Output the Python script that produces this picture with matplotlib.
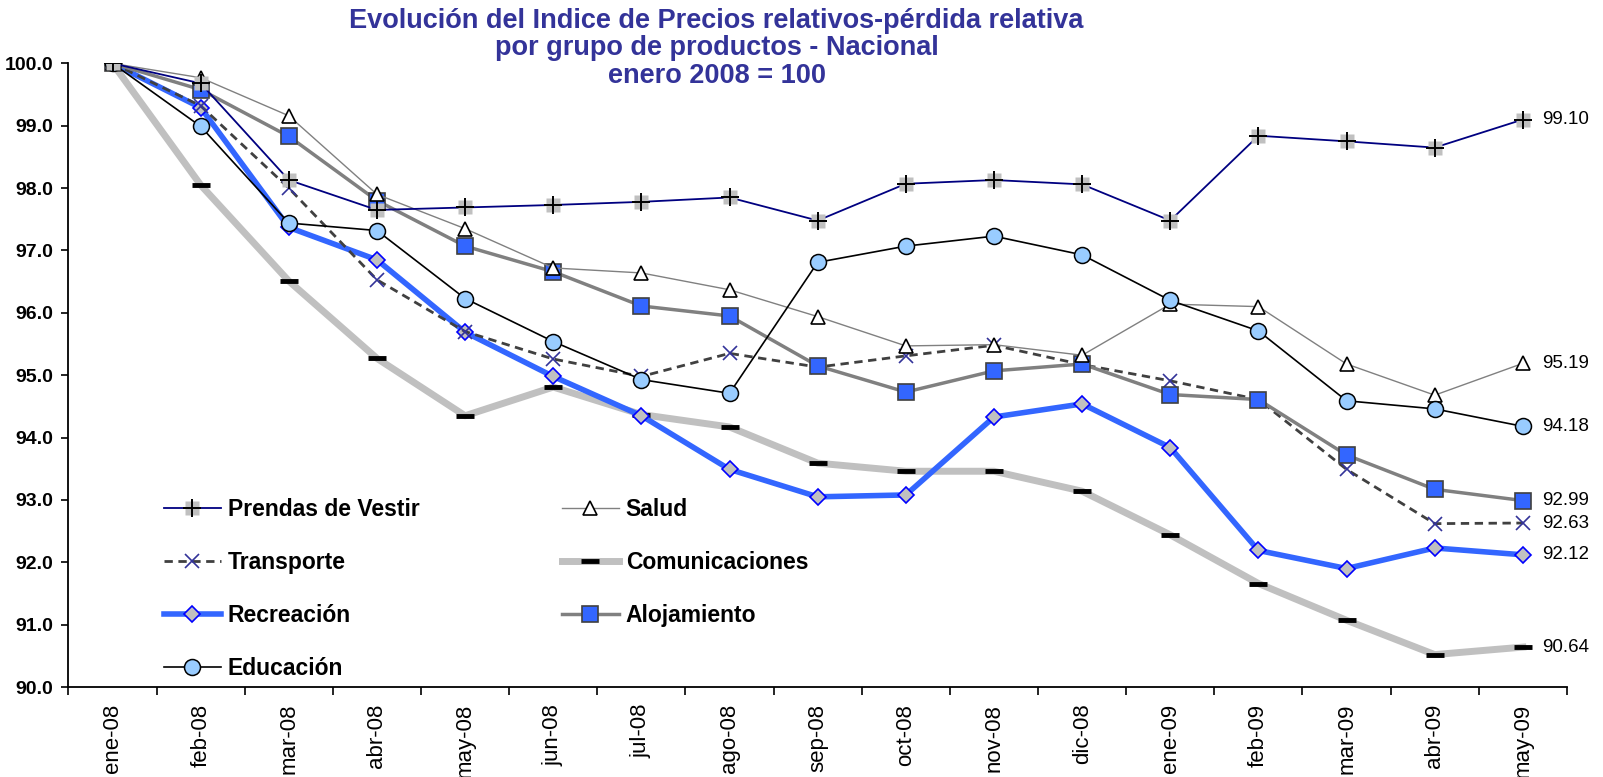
import matplotlib
matplotlib.use("Agg")
import matplotlib.pyplot as plt
from matplotlib.legend_handler import HandlerTuple

plt.rcParams['font.family'] = ['Liberation Sans', 'DejaVu Sans']

# datos
meses = ["ene-08", "feb-08", "mar-08", "abr-08", "may-08", "jun-08", "jul-08", "ago-08", "sep-08",
         "oct-08", "nov-08", "dic-08", "ene-09", "feb-09", "mar-09", "abr-09", "may-09"]
prendas = [100.0, 99.68, 98.13, 97.65, 97.69, 97.73, 97.78, 97.85, 97.48,
           98.07, 98.13, 98.06, 97.48, 98.84, 98.75, 98.65, 99.10]
salud = [100.0, 99.77, 99.16, 97.90, 97.35, 96.72, 96.64, 96.37, 95.94,
         95.47, 95.49, 95.32, 96.14, 96.10, 95.18, 94.68, 95.19]
transporte = [100.0, 99.32, 98.00, 96.53, 95.70, 95.26, 94.98, 95.35, 95.13,
              95.31, 95.48, 95.17, 94.91, 94.61, 93.49, 92.62, 92.63]
comunicaciones = [100.0, 98.05, 96.51, 95.27, 94.35, 94.81, 94.37, 94.17, 93.59,
                  93.46, 93.46, 93.14, 92.44, 91.66, 91.07, 90.52, 90.64]
recreacion = [100.0, 99.29, 97.37, 96.85, 95.69, 94.98, 94.35, 93.49, 93.05,
              93.08, 94.33, 94.54, 93.84, 92.19, 91.90, 92.23, 92.12]
alojamiento = [100.0, 99.58, 98.83, 97.80, 97.07, 96.66, 96.11, 95.95, 95.15,
               94.73, 95.07, 95.18, 94.69, 94.61, 93.72, 93.17, 92.99]
educacion = [100.0, 98.99, 97.44, 97.32, 96.23, 95.54, 94.93, 94.71, 96.81,
             97.07, 97.23, 96.93, 96.20, 95.71, 94.59, 94.46, 94.18]

x = list(range(len(meses)))

fig = plt.figure(figsize=(16.03, 7.77), dpi=100)
ax = fig.add_axes([0.0427, 0.1158, 0.9348, 0.8026])

l_com, = ax.plot(x, comunicaciones, color="#C0C0C0", lw=5, marker="_", ms=13, mew=3.5,
                 mec="black", zorder=2)
l_rec, = ax.plot(x, recreacion, color="#3366FF", lw=4, marker="D", ms=8.5, mfc="#C0C0C0",
                 mec="#0000FF", mew=1.2, zorder=3)
l_tra, = ax.plot(x, transporte, color="#404040", lw=2, ls=(0, (3, 2)), marker="x", ms=10,
                 mec="#333399", mew=1.2, zorder=4)
l_alo, = ax.plot(x, alojamiento, color="#808080", lw=2.5, marker="s", ms=11, mfc="#3366FF",
                 mec="#404040", mew=1.2, zorder=5)
l_sal, = ax.plot(x, salud, color="#808080", lw=1, marker="^", ms=10.5, mfc="white",
                 mec="black", mew=1.2, zorder=6)
l_edu, = ax.plot(x, educacion, color="black", lw=1.2, marker="o", ms=11.5, mfc="#99CCFF",
                 mec="black", mew=1.1, zorder=7)
l_pre, = ax.plot(x, prendas, color="#000080", lw=1.3, marker="s", ms=10, mfc="#C0C0C0",
                 mec="none", zorder=8)
l_pre2, = ax.plot(x, prendas, ls="none", marker="+", ms=13, mec="black", mew=1.4, zorder=9)

# etiquetas del último valor
for serie in [prendas, salud, educacion, alojamiento, transporte, recreacion, comunicaciones]:
    ax.annotate(f"{serie[-1]:.2f}", (x[-1], serie[-1]), xytext=(14, 0),
                textcoords="offset points", va="center", ha="left", fontsize=13.5)

ax.set_xlim(-0.5, len(meses) - 0.5)
ax.set_ylim(90, 100)
ax.set_yticks([90 + i for i in range(11)])
ax.set_yticklabels([f"{90 + i:.1f}" for i in range(11)], fontweight="bold", fontsize=14)
ax.set_xticks(x)
ax.set_xticklabels(meses, rotation=90, fontsize=16)
ax.set_xticks([i - 0.5 for i in range(len(meses) + 1)], minor=True)
ax.tick_params(axis="x", which="major", length=0, pad=12)
ax.tick_params(axis="x", which="minor", length=6, width=1.2, direction="out")
ax.tick_params(axis="y", length=5, width=1.2, direction="out", pad=6)
for s in ["top", "right"]:
    ax.spines[s].set_visible(False)
for s in ["left", "bottom"]:
    ax.spines[s].set_linewidth(1.3)

fig.text(0.447, 0.990, "Evolución del Indice de Precios relativos-pérdida relativa\n"
         "por grupo de productos - Nacional\nenero 2008 = 100",
         ha="center", va="top", fontsize=19.5, fontweight="bold", color="#333399",
         linespacing=1.08)

handles = [(l_pre, l_pre2), l_tra, l_rec, l_edu, l_sal, l_com, l_alo]
labels = ["Prendas de Vestir", "Transporte", "Recreación", "Educación",
          "Salud", "Comunicaciones", "Alojamiento"]
fig.legend(handles, labels, handler_map={tuple: HandlerTuple(ndivide=1, pad=0)},
           loc="upper left", bbox_to_anchor=(0.102, 0.359), ncol=2, frameon=False,
           prop={"weight": "bold", "size": 16.5}, handlelength=2.5, handletextpad=0.3,
           columnspacing=6.2, labelspacing=1.31, borderpad=0, borderaxespad=0)

fig.savefig("out.png", dpi=100)
